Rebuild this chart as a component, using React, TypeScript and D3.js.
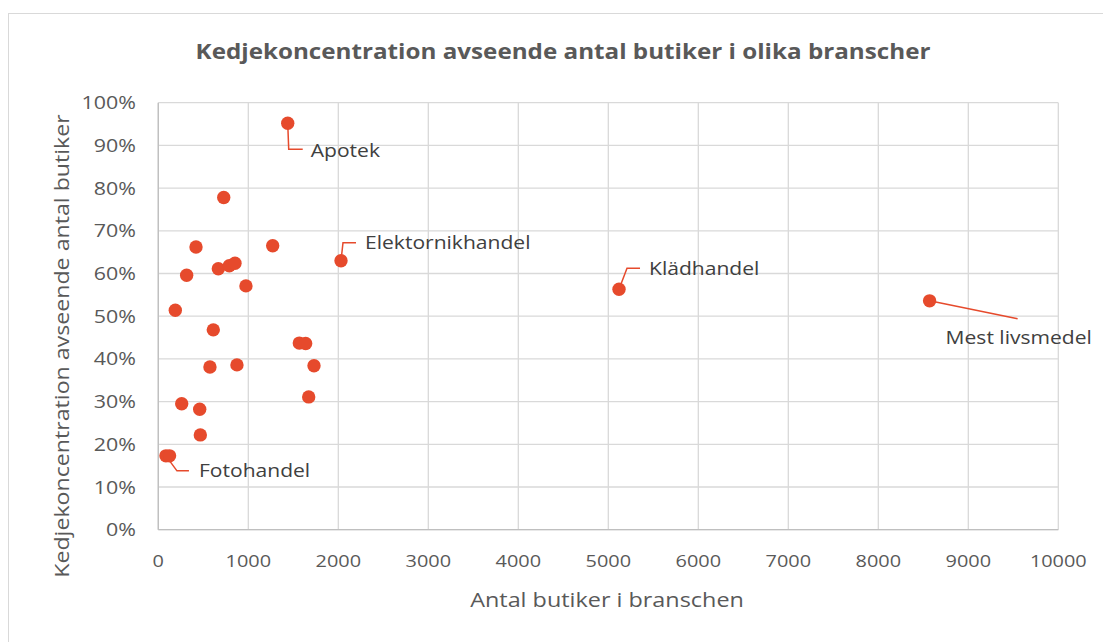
import React from "react";
import * as d3 from "d3";

const names = ["Apotek", "", "", "", "Elektornikhandel", "", "", "", "", "", "", "", "", "", "", "", "", "", "", "", "", "Fotohandel", "", "Klädhandel", "Mest livsmedel"];
const butiker = [1438, 727, 419, 1271, 2030, 315, 667, 789, 852, 974, 189, 611, 1567, 1637, 574, 874, 1730, 1671, 260, 460, 467, 85, 125, 5119, 8570];
const koncentration = [0.952, 0.778, 0.662, 0.665, 0.63, 0.596, 0.611, 0.618, 0.624, 0.571, 0.514, 0.468, 0.437, 0.436, 0.381, 0.386, 0.384, 0.311, 0.295, 0.282, 0.222, 0.173, 0.173, 0.563, 0.536];
const xTicks = [0, 1000, 2000, 3000, 4000, 5000, 6000, 7000, 8000, 9000, 10000];
const yTicks = [0, 0.1, 0.2, 0.3, 0.4, 0.5, 0.6, 0.7, 0.8, 0.9, 1.0];

const title = "Kedjekoncentration avseende antal butiker i olika branscher";
const xTitle = "Antal butiker i branschen";
const yTitle = "Kedjekoncentration avseende antal butiker";

// leader-line layout per label (pixel offsets from the point)
const labelLayout: Record<string, { pts: [number, number][]; tx: number; ty: number }> = {
  Apotek: { pts: [[1, 26], [15, 26]], tx: 23, ty: 27 },
  Elektornikhandel: { pts: [[2, -18], [15, -18]], tx: 24, ty: -18 },
  Klädhandel: { pts: [[8, -21], [21, -21]], tx: 30, ty: -21 },
  Fotohandel: { pts: [[11, 15], [23, 15]], tx: 33, ty: 15 },
  "Mest livsmedel": { pts: [[88, 18]], tx: 16, ty: 37 },
};

const SX = 1.17;

function T(props: { x: number; y: number; anchor?: string; size: number; fill: string; weight?: number; rotate?: number; children: any }) {
  const { x, y, anchor = "start", size, fill, weight = 400, rotate = 0, children } = props;
  return (
    <g transform={`translate(${x},${y}) rotate(${rotate}) scale(${SX},1)`}>
      <text x={0} y={0} dy="0.36em" textAnchor={anchor} fontSize={size} fontWeight={weight} fill={fill}>{children}</text>
    </g>
  );
}

export default function App() {
  const W = 1103, H = 642;
  const left = 158.3, right = 1058.3, top = 102.7, bottom = 529.7;
  const x = d3.scaleLinear().domain([0, 10000]).range([left, right]);
  const y = d3.scaleLinear().domain([0, 1]).range([bottom, top]);
  const fmt = d3.format(".0%");
  const font = "'Open Sans', 'Segoe UI', sans-serif";
  const red = "#E64A2C";
  const txt = "#595959";
  const data = butiker.map((b, i) => ({ b, k: koncentration[i], name: names[i] }));
  const line = d3.line();

  return (
    <svg width={W} height={H} style={{ position: "absolute", left: 0, top: 0, background: "#fff" }} fontFamily={font}>
      <rect x={8.5} y={13.5} width={1100} height={640} fill="#fff" stroke="#d9d9d9" strokeWidth={1} />
      <T x={563} y={52} anchor="middle" size={20.7} weight={700} fill={txt}>{title}</T>
      {yTicks.map((t) => (
        <line key={"gy" + t} x1={left} x2={right} y1={y(t)} y2={y(t)} stroke="#d9d9d9" strokeWidth={1.3} />
      ))}
      {xTicks.map((t) => (
        <line key={"gx" + t} x1={x(t)} x2={x(t)} y1={top} y2={bottom} stroke="#d9d9d9" strokeWidth={1.3} />
      ))}
      <line x1={left} x2={right} y1={bottom} y2={bottom} stroke="#bfbfbf" strokeWidth={1.3} />
      <line x1={left} x2={left} y1={top} y2={bottom} stroke="#bfbfbf" strokeWidth={1.3} />
      {yTicks.map((t) => (
        <T key={"ty" + t} x={136} y={y(t)} anchor="end" size={18.3} fill={txt}>{fmt(t)}</T>
      ))}
      {xTicks.map((t) => (
        <T key={"tx" + t} x={x(t)} y={561} anchor="middle" size={17} fill={txt}>{t}</T>
      ))}
      <T x={607} y={600} anchor="middle" size={20} fill={txt}>{xTitle}</T>
      <T x={62} y={346} anchor="middle" size={19.8} fill={txt} rotate={-90}>{yTitle}</T>
      {data.map((d, i) => {
        const lay = d.name ? labelLayout[d.name] : null;
        if (!lay) return null;
        const px = x(d.b), py = y(d.k);
        const pts: [number, number][] = [[px, py], ...lay.pts.map(([a, b]) => [px + a, py + b] as [number, number])];
        return (
          <g key={"l" + i}>
            <path d={line(pts) || ""} fill="none" stroke={red} strokeWidth={1.5} />
            <T x={px + lay.tx} y={py + lay.ty} size={18} fill="#404040">{d.name}</T>
          </g>
        );
      })}
      {data.map((d, i) => (
        <circle key={"c" + i} cx={x(d.b)} cy={y(d.k)} r={6.7} fill={red} />
      ))}
    </svg>
  );
}
